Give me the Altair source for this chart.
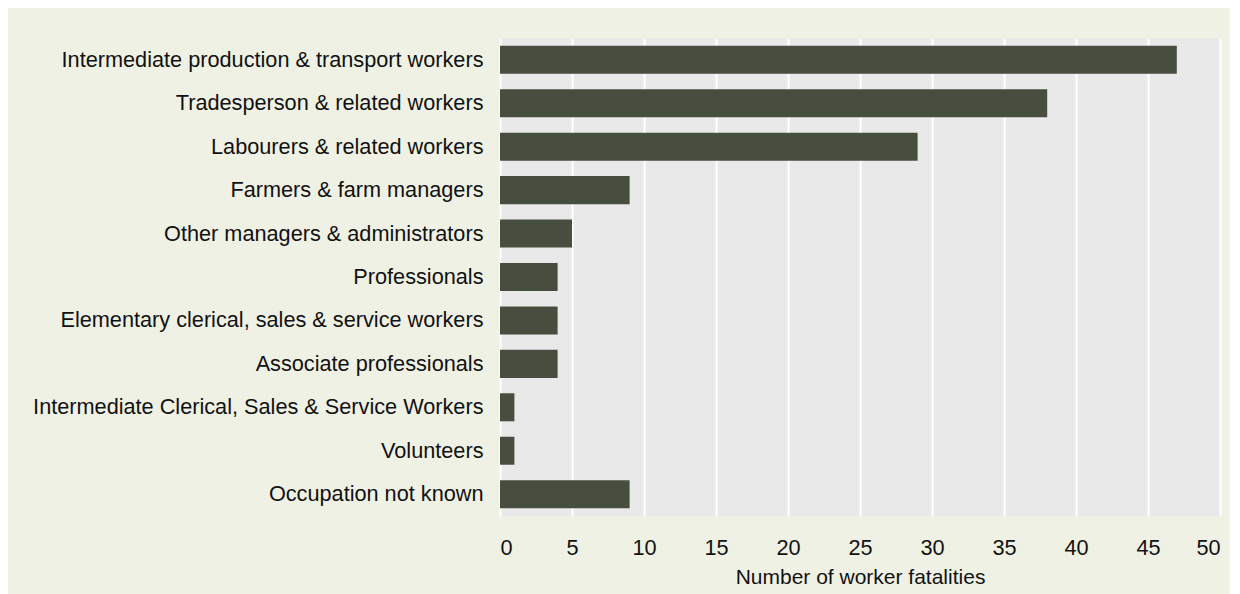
import altair as alt
import pandas as pd

occupations = [
    "Intermediate production & transport workers",
    "Tradesperson & related workers",
    "Labourers & related workers",
    "Farmers & farm managers",
    "Other managers & administrators",
    "Professionals",
    "Elementary clerical, sales & service workers",
    "Associate professionals",
    "Intermediate Clerical, Sales & Service Workers",
    "Volunteers",
    "Occupation not known",
]
fatalities = [47, 38, 29, 9, 5, 4, 4, 4, 1, 1, 9]
x_ticks = [0, 5, 10, 15, 20, 25, 30, 35, 40, 45, 50]

df = pd.DataFrame({"occupation": occupations, "fatalities": fatalities})

FONT = "Liberation Sans"

chart = (
    alt.Chart(df)
    .mark_bar(color="#474e3f")
    .encode(
        y=alt.Y(
            "occupation:N",
            sort=occupations,
            title=None,
            scale=alt.Scale(paddingInner=0.355, paddingOuter=0.18),
            axis=alt.Axis(
                ticks=False,
                tickSize=0,
                domain=False,
                grid=False,
                labelPadding=17,
                labelFontSize=21.7,
                labelFont=FONT,
                labelColor="#111111",
                labelLimit=600,
            ),
        ),
        x=alt.X(
            "fatalities:Q",
            title="Number of worker fatalities",
            scale=alt.Scale(domain=[0, 50], nice=False),
            axis=alt.Axis(
                values=x_ticks,
                ticks=False,
                tickSize=0,
                domain=False,
                grid=True,
                gridColor="#ffffff",
                gridWidth=2,
                gridOpacity=1,
                labelPadding=21,
                labelFontSize=21.7,
                labelFont=FONT,
                labelColor="#111111",
                titleFont=FONT,
                titleFontSize=21,
                titleFontWeight="normal",
                titleColor="#111111",
                titlePadding=8,
            ),
        ),
    )
    .properties(
        width=720,
        height=478,
        background="#f0f1e5",
        padding={"left": 492, "top": 30, "right": 10, "bottom": 78},
        autosize=alt.AutoSizeParams(type="none"),
    )
    .configure_view(fill="#e9e9e9", stroke=None)
)

chart.save("out.html", embed_options={"renderer": "svg", "actions": False})
